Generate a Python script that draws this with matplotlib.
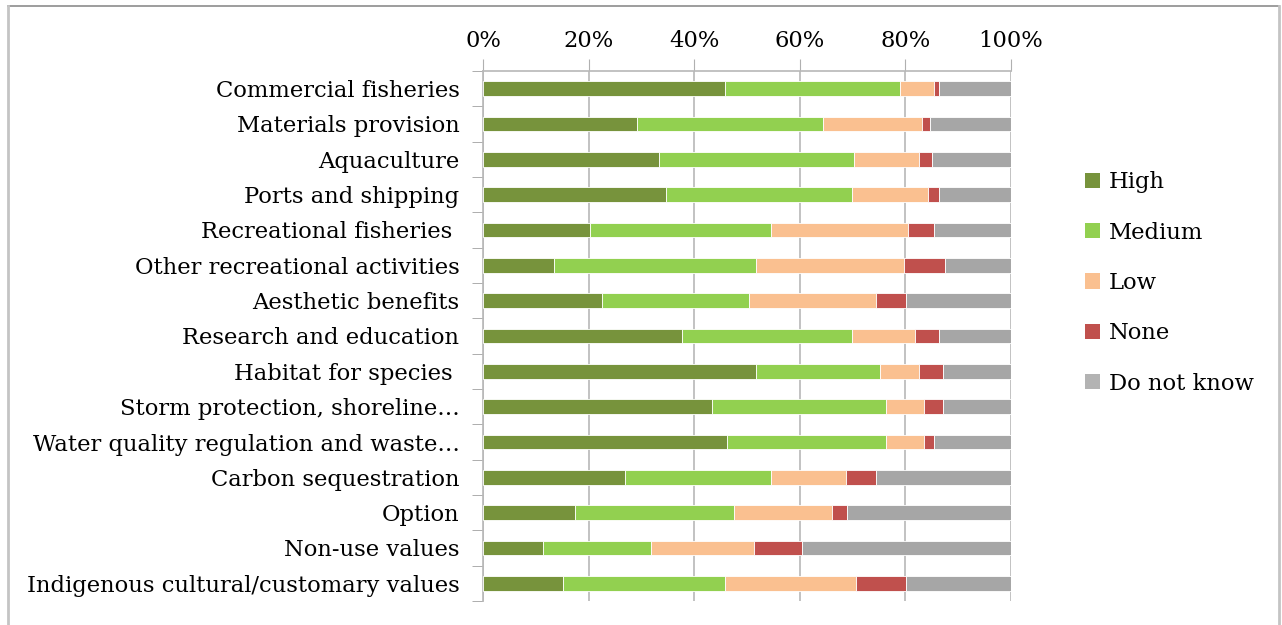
import matplotlib.pyplot as plt
from matplotlib.patches import Patch
from matplotlib.lines import Line2D
import numpy as np

categories = ['Commercial fisheries', 'Materials provision', 'Aquaculture', 'Ports and shipping',
              'Recreational fisheries ', 'Other recreational activities', 'Aesthetic benefits',
              'Research and education', 'Habitat for species ', 'Storm protection, shoreline\u2026',
              'Water quality regulation and waste\u2026', 'Carbon sequestration', 'Option',
              'Non-use values', 'Indigenous cultural/customary values']

high = [45.8, 29.2, 33.4, 34.7, 20.2, 13.5, 22.6, 37.6, 51.7, 43.3, 46.2, 26.9, 17.4, 11.4, 15.2]
medium = [33.1, 35.1, 36.8, 35.2, 34.3, 38.2, 27.7, 32.3, 23.5, 33.1, 30.2, 27.6, 30.1, 20.4, 30.6]
low = [6.5, 18.8, 12.3, 14.3, 26.0, 28.0, 24.1, 11.9, 7.4, 7.1, 7.1, 14.2, 18.6, 19.5, 24.9]
none = [0.9, 1.6, 2.5, 2.1, 4.9, 7.8, 5.7, 4.5, 4.5, 3.6, 1.9, 5.7, 2.8, 9.1, 9.4]
dont_know = [13.7, 15.3, 15.0, 13.7, 14.6, 12.5, 19.9, 13.7, 12.9, 12.9, 14.6, 25.6, 31.1, 39.6, 19.9]

series = [('High', high, '#77933C'), ('Medium', medium, '#92D050'), ('Low', low, '#FAC090'),
          ('None', none, '#C0504D'), ('Do not know', dont_know, '#A6A6A6')]

font = 'DejaVu Serif'
fs = 16.3
W, H = 1282, 625

fig = plt.figure(figsize=[W / 100, H / 100], dpi=100)
ax = fig.add_axes([483 / W, 1 - 601 / H, 528 / W, 530 / H])

y = np.arange(len(categories))
left = np.zeros(len(categories))
for name, vals, col in series:
    vals = np.array(vals, dtype=float)
    ax.barh(y, vals, left=left, height=0.42, color=col, edgecolor='white', linewidth=0.6,
            label=name, zorder=3)
    left = left + vals

ax.set_xlim(0, 100)
ax.set_ylim(len(categories) - 0.5, -0.5)
ax.xaxis.tick_top()
ax.set_xticks(np.arange(0, 101, 20))
ax.set_xticklabels(['{0}%'.format(v) for v in range(0, 101, 20)], fontfamily=font, fontsize=fs)
ax.tick_params(axis='x', direction='out', length=9, color='#b0b0b0', pad=5)
ax.set_yticks(y)
ax.set_yticklabels(categories, fontfamily=font, fontsize=fs)
ax.set_yticks(np.arange(-0.5, len(categories) + 0.5, 1), minor=True)
ax.tick_params(axis='y', which='major', length=0, pad=17)
ax.tick_params(axis='y', which='minor', length=8, color='#a0a0a0', direction='out')
ax.grid(axis='x', color='#b8b8b8', linewidth=1.2, zorder=0)
ax.set_axisbelow(True)
for s in ['right', 'bottom']:
    ax.spines[s].set_visible(False)
ax.spines['top'].set_color('#b8b8b8')
ax.spines['top'].set_linewidth(1.2)
ax.spines['left'].set_color('#b8b8b8')
ax.spines['left'].set_linewidth(1.2)

handles = [Patch(facecolor=c, edgecolor='none', label=n) for n, v, c in series]
handles[-1] = Patch(facecolor='#B3B3B3', edgecolor='none', label='Do not know')
leg = fig.legend(handles=handles, loc='center left', bbox_to_anchor=(1085 / W, 1 - 283 / H),
                 frameon=False, prop={'family': font, 'size': fs}, handlelength=0.65, handleheight=0.65,
                 handletextpad=0.4, labelspacing=1.25, borderpad=0, borderaxespad=0)

# outer chart border
fig.add_artist(Line2D([8 / W, 1279 / W], [1 - 6 / H, 1 - 6 / H], color='#8c8c8c', linewidth=1.2))
fig.add_artist(Line2D([8 / W, 8 / W], [0, 1 - 6 / H], color='#c4c4c4', linewidth=2))
fig.add_artist(Line2D([1279 / W, 1279 / W], [0, 1 - 6 / H], color='#c4c4c4', linewidth=2))

fig.savefig('out.png', dpi=100)
